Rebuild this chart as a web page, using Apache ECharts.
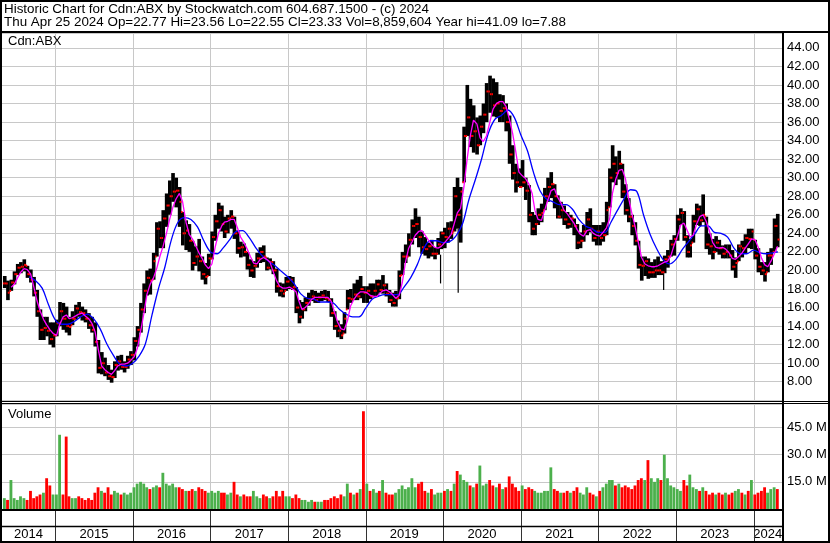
<!DOCTYPE html>
<html><head><meta charset="utf-8">
<script src="https://cdn.jsdelivr.net/npm/echarts@6/dist/echarts.min.js"></script>
<style>html,body{margin:0;padding:0;background:#fff}#c{width:830px;height:543px}</style>
</head><body><div id="c"></div><script>
// ---- half-month OHLC envelope (May 2014 .. Apr 2024), two values per month ----
const priceHigh = [
19.4,18.9,19.0,19.9,20.7,20.9,21.2,20.5,20.1,19.3,17.9,15.8,15.0,15.0,14.4,14.4,
14.7,16.6,16.5,16.1,15.0,15.6,16.3,16.6,16.1,15.8,15.4,15.0,14.4,12.5,11.2,10.6,9.8,9.3,10.2,10.8,10.9,10.2,10.8,11.3,
12.8,14.0,16.5,18.6,20.0,20.2,21.9,25.2,25.3,26.5,28.3,29.7,30.5,30.0,29.0,26.3,25.4,25.0,23.2,22.6,23.4,21.5,20.8,21.8,
24.2,26.0,27.3,27.0,25.8,26.0,26.5,25.8,24.3,23.1,22.9,22.0,21.2,21.0,21.9,22.5,22.7,21.4,21.3,21.0,20.2,18.7,18.6,19.3,
19.4,19.3,18.2,16.8,16.6,17.1,17.6,17.9,17.8,17.6,17.8,17.9,17.8,17.0,15.6,14.6,14.2,15.5,17.9,18.0,18.6,19.0,19.4,18.3,
18.3,18.6,18.6,19.0,19.0,19.5,18.6,17.9,17.6,17.8,20.0,22.0,22.8,24.0,25.5,26.7,25.8,24.2,23.6,23.0,23.3,22.5,23.5,24.2,
24.6,25.2,25.3,29.0,30.0,29.0,35.5,40.0,38.5,37.8,36.5,36.7,38.0,40.2,41.0,40.7,40.3,39.0,38.9,38.0,36.7,33.5,31.5,31.0,
31.9,30.0,29.2,26.3,26.0,26.7,27.2,28.9,30.0,30.6,29.3,28.1,27.4,27.0,26.3,26.0,25.6,25.0,24.1,24.9,26.3,26.7,24.9,24.9,
24.9,25.2,27.4,31.0,33.5,32.3,32.9,31.5,29.3,27.8,26.0,25.2,23.2,21.5,21.5,21.3,20.9,21.2,21.5,21.0,21.6,22.2,23.3,23.8,
26.0,26.7,26.4,23.8,23.4,26.0,27.2,27.0,28.2,25.8,24.0,23.4,23.7,23.3,22.7,22.8,22.8,22.2,21.4,22.8,23.2,23.9,24.5,24.5,
23.3,22.4,20.9,20.9,22.0,22.4,25.6,26.1];
const priceLow = [
18.1,16.8,17.8,18.5,19.5,19.7,19.9,19.2,18.7,17.2,15.0,12.5,12.5,12.9,12.0,11.7,
12.9,14.0,13.6,13.3,13.0,14.1,14.7,15.0,14.6,14.4,13.7,13.3,11.8,8.9,8.8,8.6,8.2,7.9,8.4,9.2,9.3,9.0,9.4,9.8,
10.3,11.8,13.3,15.4,17.3,17.4,19.0,21.5,22.4,22.4,24.7,26.0,27.4,26.8,24.7,22.7,22.2,22.0,20.0,20.5,19.9,19.0,18.5,19.4,
21.2,23.2,24.5,24.2,23.5,24.0,24.5,23.4,21.8,21.4,21.5,20.1,19.3,19.2,20.3,20.8,20.9,20.0,20.1,19.6,17.6,17.2,17.1,17.8,
18.0,17.9,15.4,14.3,14.8,15.6,16.2,16.7,16.5,16.5,16.7,16.8,16.6,15.0,13.6,12.8,12.6,13.2,15.8,16.5,16.8,16.8,17.0,16.5,
16.5,16.9,17.2,17.2,17.6,17.5,17.2,16.5,16.1,16.1,16.9,19.5,20.8,21.5,22.8,23.5,22.5,21.8,21.6,21.3,21.5,21.2,21.7,22.3,
22.4,23.0,23.4,24.2,24.5,23.0,29.5,34.5,33.3,32.7,32.5,33.5,34.8,36.0,37.0,36.6,36.5,36.0,36.0,35.0,31.5,29.8,28.4,29.0,
29.0,27.6,25.2,23.8,23.8,24.9,25.2,26.5,27.4,27.8,26.7,25.6,25.6,24.9,24.5,24.6,23.8,22.3,22.4,23.1,23.8,24.1,23.1,22.7,
22.7,23.1,23.8,26.8,29.5,29.2,29.8,27.8,26.0,25.2,23.8,22.7,20.2,18.9,19.4,19.1,19.2,19.2,19.5,19.5,19.7,20.3,21.5,21.6,
23.2,24.9,23.2,21.4,21.4,23.0,24.9,24.8,25.2,22.3,21.7,21.2,22.0,21.7,21.3,21.3,21.3,20.0,19.2,21.0,21.4,21.8,22.4,22.3,
21.2,19.8,19.5,18.8,19.8,20.6,22.0,22.5];
const priceClose = [
18.6,17.6,18.7,19.6,20.3,20.4,20.6,19.6,19.0,17.6,15.6,13.6,13.8,13.5,12.6,13.0,
14.3,15.6,14.8,14.0,13.9,14.8,15.9,15.5,15.4,14.8,14.1,13.6,12.3,9.5,10.0,9.0,8.6,8.5,9.8,10.2,9.6,9.6,10.4,10.9,
12.4,13.6,15.8,17.8,19.2,18.9,21.0,24.5,23.5,25.6,27.0,28.0,28.5,28.6,27.4,24.0,24.3,23.2,20.8,21.5,21.0,19.6,19.3,21.3,
23.6,25.3,26.5,25.0,24.2,25.6,25.8,24.0,22.4,22.5,22.0,20.6,20.0,20.5,21.3,22.0,21.5,20.3,20.9,20.0,18.3,17.8,17.5,18.8,
19.0,18.2,16.0,15.0,15.8,16.5,16.9,17.2,16.8,17.1,17.3,17.0,16.8,15.4,14.0,13.5,13.0,14.8,17.0,16.9,17.4,17.2,18.0,17.6,
17.8,17.2,17.8,18.5,17.9,18.4,17.5,16.8,16.5,17.0,19.4,21.5,21.5,23.3,24.8,25.0,23.6,22.5,22.3,22.6,21.8,21.8,22.8,24.0,
23.6,24.5,24.0,28.0,26.0,28.5,34.5,36.5,34.5,35.0,33.5,35.5,36.8,39.3,39.0,37.8,38.0,37.2,37.5,36.0,32.5,30.5,29.5,29.0,
29.5,28.6,26.0,24.5,25.0,26.0,26.2,28.0,29.0,29.3,28.0,25.8,26.5,25.5,25.0,25.6,24.8,23.0,23.2,24.2,25.5,24.5,23.5,24.2,
23.5,23.8,26.5,30.0,31.5,30.5,31.5,28.5,26.5,25.8,24.8,23.2,20.6,20.5,21.0,19.8,19.8,20.0,20.0,19.8,21.2,21.5,22.8,23.4,
25.5,26.2,23.6,22.0,22.7,25.3,26.6,25.4,26.0,22.8,22.6,22.0,23.0,22.4,21.8,22.0,21.6,20.4,20.8,22.6,22.4,23.5,23.4,24.2,
21.6,20.4,20.0,19.6,21.6,21.6,24.8,23.33];
// thin one-off spikes below the band: [date, spike low, band low]
const spikeDates = ['2019-12-20','2020-03-12','2022-11-04'];
const spikeLows  = [18.6, 17.6, 17.9];
const spikeTops  = [21.7, 24.5, 19.7];
// fast moving average (magenta), half-month points
const fastMA = [
null,null,18.2,18.5,19.2,19.8,20.2,20.1,19.6,18.2,16.7,15.6,14.7,14.1,13.6,13.2,
13.0,14.2,15.0,15.2,14.8,14.9,15.1,15.3,15.4,15.1,14.8,14.3,13.4,11.5,9.7,9.3,9.0,8.8,9.2,9.7,9.9,9.9,10.0,10.3,
10.7,11.6,13.5,15.4,17.4,18.5,19.2,20.2,21.5,22.6,24.0,25.5,26.8,27.7,28.3,27.4,25.2,23.9,23.4,22.7,21.9,21.3,20.6,20.2,
20.7,22.5,24.0,24.8,25.2,25.3,25.5,25.5,24.6,23.6,23.0,22.3,21.5,20.8,20.7,21.2,21.4,21.2,20.9,19.9,18.9,18.3,18.1,18.1,
18.2,18.0,17.7,16.6,15.8,16.0,16.4,16.9,17.1,17.1,17.1,17.1,17.1,16.7,15.5,14.4,13.7,13.6,14.6,16.2,16.9,17.4,17.7,17.7,
17.6,17.3,17.2,17.2,17.5,17.8,17.9,17.7,17.4,17.0,17.3,18.7,20.9,22.4,23.1,23.8,24.2,24.3,23.8,23.3,22.8,22.5,22.4,22.6,
23.0,23.4,23.9,25.1,26.2,26.7,29.0,32.0,34.5,36.2,35.8,34.3,33.9,34.5,36.0,37.4,38.0,38.2,38.2,37.7,36.3,34.8,32.8,30.6,
30.2,29.9,29.3,28.3,26.5,25.5,25.4,26.5,27.6,28.6,28.8,27.9,27.3,26.5,26.1,25.6,25.1,24.4,23.9,23.7,24.3,24.4,24.0,23.8,
23.7,24.1,24.6,25.6,28.3,29.8,30.8,30.9,29.9,27.8,26.1,24.7,23.0,21.4,20.7,20.5,20.4,20.4,20.5,20.7,20.9,21.0,21.6,22.7,
23.7,24.9,25.1,24.3,23.6,23.8,25.0,25.8,26.0,25.3,24.2,23.0,22.5,22.4,22.5,22.3,21.9,21.3,21.2,21.5,21.9,22.4,22.9,23.4,
23.3,22.5,21.3,20.6,20.4,21.0,21.8,22.6];
// slow moving average (blue), month starts May 2014 .. Apr 2024, then Apr 25 2024
const slowMA = [
null,null,null,null,19.3,18.9,18.1,16.3,
14.7,14.2,14.2,14.5,15.0,15.3,14.8,13.7,12.1,10.9,9.9,9.7,
10.0,10.8,12.1,15.2,18.0,20.4,23.3,25.2,25.7,25.5,24.7,23.2,
22.0,21.8,22.4,23.3,24.2,24.3,23.6,22.5,21.6,21.0,20.5,19.9,
19.3,18.5,17.5,17.0,16.9,16.6,16.6,16.5,15.8,15.3,15.0,15.0,
15.9,16.9,17.2,17.4,17.4,17.4,18.2,19.2,20.6,22.3,23.2,23.2,
23.0,23.1,23.7,25.0,27.6,29.8,32.1,34.8,36.3,36.7,37.3,36.5,
34.6,32.9,30.6,28.6,27.7,27.4,27.1,27.1,26.6,25.5,24.8,24.5,
24.1,24.1,25.2,26.5,27.7,28.7,28.5,26.0,23.9,22.4,21.2,20.7,
21.2,22.3,23.1,24.0,24.8,24.8,24.1,24.0,23.6,22.4,21.8,21.8,
22.2,21.9,21.8,21.9,22.0];
// volume, millions, half-month
const volumeM = [
6,5,16,6,5,7,6,5,10,6,7,8,9,17,13,8,
8,41,8,40,7,6,6,7,6,5,6,5,9,12,10,9,12,8,10,9,8,9,8,9,
12,14,15,14,12,11,12,13,12,20,14,13,14,12,12,11,10,10,11,10,12,11,10,9,
10,9,10,9,9,8,9,15,8,7,8,7,7,10,7,6,8,7,6,7,10,7,10,7,
7,6,8,6,5,5,4,5,4,4,4,5,5,6,7,6,8,7,14,9,8,9,11,54,
14,10,11,9,10,16,9,8,8,9,11,13,11,12,17,12,14,15,10,9,11,8,9,9,
10,11,10,14,21,19,16,15,13,12,14,24,13,14,16,13,12,14,11,12,18,14,12,10,
13,11,12,11,10,9,9,10,10,23,11,10,9,9,10,9,10,12,9,8,12,9,8,7,
10,12,14,16,16,13,14,12,13,12,11,13,16,17,16,27,17,15,17,16,30,17,13,12,
11,10,16,13,19,12,11,10,12,10,8,9,8,9,8,9,8,9,10,11,9,8,10,16,
8,9,10,12,9,11,12,11];
const yearLabels = ['2014','2015','2016','2017','2018','2019','2020','2021','2022','2023','2024'];

// ---- time positions (categories) ----
const T0 = new Date(2014, 3, 26).getTime();
const T1 = new Date(2024, 4, 14).getTime();
const DAY = 86400000, HALF = 15.22 * DAY;
const halfDates = [], monthDates = [];
for (let y = 2014; y <= 2024; y++) for (let m = 0; m < 12; m++) {
  if (y === 2014 && m < 4) continue;
  if (y === 2024 && m > 3) break;
  halfDates.push(new Date(y, m, 8).getTime(), new Date(y, m, 23).getTime());
  monthDates.push(new Date(y, m, 1).getTime());
}
monthDates.push(new Date(2024, 3, 25).getTime());

const FONT = '"Liberation Sans", Arial, sans-serif';
const GRID = '#c8c8c8';
const ohlc = halfDates.map((t, i) => [t, priceHigh[i], priceLow[i], priceClose[i], i ? priceClose[i - 1] : priceClose[i]]);
const vol = halfDates.map((t, i) => [t, volumeM[i], i === 0 || priceClose[i] >= priceClose[i - 1] ? 1 : 0]);
const fast = halfDates.map((t, i) => [t, fastMA[i]]);
const slow = monthDates.map((t, i) => [t, slowMA[i]]);
const spikes = spikeDates.map((d, i) => [new Date(d).getTime(), spikeLows[i], spikeTops[i]]);
const yearCells = yearLabels.map((y, i) => [Math.max(T0, new Date(+y, 0, 1).getTime()), Math.min(T1, new Date(+y + 1, 0, 1).getTime()), y]);
const yearLines = yearCells.slice(1).map(c => [c[0]]);

function gridLines(params, api) {
  const cs = params.coordSys;
  const x = Math.round(api.coord([api.value(0), 0])[0]) + 0.5;
  return {type: 'line', shape: {x1: x, y1: cs.y, x2: x, y2: cs.y + cs.height}, style: {stroke: GRID, lineWidth: 1}};
}

const chart = echarts.init(document.getElementById('c'), null, {renderer: 'canvas'});
const xBase = {type: 'time', min: T0, max: T1, axisLine: {show: false}, axisTick: {show: false}, axisLabel: {show: false}, splitLine: {show: false}};
chart.setOption({
  animation: false,
  backgroundColor: '#fff',
  grid: [
    {left: 2, right: 48, top: 33, height: 367.3},
    {left: 2, right: 48, top: 404, height: 105},
    {left: 2, right: 48, top: 511, height: 31}
  ],
  xAxis: [Object.assign({gridIndex: 0}, xBase), Object.assign({gridIndex: 1}, xBase), Object.assign({gridIndex: 2}, xBase)],
  yAxis: [
    {gridIndex: 0, type: 'value', position: 'right', min: 6, max: 45.6, interval: 2,
     axisLine: {show: false}, axisTick: {show: false},
     axisLabel: {formatter: v => v.toFixed(2), showMinLabel: false, showMaxLabel: false, color: '#000', fontSize: 13, fontFamily: FONT, margin: 5},
     splitLine: {lineStyle: {color: GRID, width: 1}}},
    {gridIndex: 1, type: 'value', position: 'right', min: 0, max: 58, interval: 15,
     axisLine: {show: false}, axisTick: {show: false},
     axisLabel: {formatter: v => v.toFixed(1) + ' M', showMinLabel: false, showMaxLabel: false, color: '#000', fontSize: 13, fontFamily: FONT, margin: 5},
     splitLine: {lineStyle: {color: GRID, width: 1}}},
    {gridIndex: 2, type: 'value', min: 0, max: 2, show: false}
  ],
  series: [
    {type: 'custom', xAxisIndex: 0, yAxisIndex: 0, data: yearLines, renderItem: gridLines, z: 1, silent: true},
    {type: 'custom', xAxisIndex: 1, yAxisIndex: 1, data: yearLines, renderItem: gridLines, z: 1, silent: true},
    {type: 'custom', xAxisIndex: 0, yAxisIndex: 0, data: ohlc, z: 3, silent: true,
     renderItem(params, api) {
       const t = api.value(0), hi = api.value(1), lo = api.value(2);
       const op = Math.min(hi, Math.max(lo, api.value(4)));
       const pH = api.coord([t, hi]), pL = api.coord([t, lo]), pC = api.coord([t, api.value(3)]), pO = api.coord([t, op]);
       const w = api.size([HALF, 0])[0];
       return {type: 'group', children: [
         {type: 'rect', shape: {x: pH[0] - w / 2, y: pH[1], width: w + 0.4, height: Math.max(1, pL[1] - pH[1])}, style: {fill: '#000'}},
         {type: 'rect', shape: {x: pC[0] + w / 2 - 1.6, y: pC[1] - 1, width: 2, height: 2}, style: {fill: '#ff0000'}},
         {type: 'rect', shape: {x: pO[0] - w / 2, y: pO[1] - 1, width: 1.6, height: 2}, style: {fill: '#ff0000'}}
       ]};
     }},
    {type: 'custom', xAxisIndex: 0, yAxisIndex: 0, data: spikes, z: 3, silent: true,
     renderItem(params, api) {
       const t = api.value(0);
       const a = api.coord([t, api.value(1)]), b = api.coord([t, api.value(2)]);
       return {type: 'line', shape: {x1: a[0], y1: a[1], x2: b[0], y2: b[1]}, style: {stroke: '#000', lineWidth: 1.2}};
     }},
    {type: 'line', xAxisIndex: 0, yAxisIndex: 0, data: slow, showSymbol: false, smooth: 0.35, z: 5, silent: true,
     lineStyle: {color: '#0000ff', width: 1.3}},
    {type: 'line', xAxisIndex: 0, yAxisIndex: 0, data: fast, showSymbol: false, z: 6, silent: true,
     lineStyle: {color: '#ff00ff', width: 1.3}},
    {type: 'custom', xAxisIndex: 1, yAxisIndex: 1, data: vol, z: 3, silent: true,
     renderItem(params, api) {
       const t = api.value(0);
       const p0 = api.coord([t, 0]), p1 = api.coord([t, api.value(1)]);
       const w = api.size([HALF, 0])[0];
       return {type: 'rect', shape: {x: p0[0] - w / 2, y: p1[1], width: w - 0.4, height: p0[1] - p1[1]},
               style: {fill: api.value(2) ? '#4cb04c' : '#ff0000'}};
     }},
    {type: 'custom', xAxisIndex: 2, yAxisIndex: 2, data: yearCells, z: 3, silent: true,
     renderItem(params, api) {
       const cs = params.coordSys;
       const a = api.coord([api.value(0), 0])[0], b = api.coord([api.value(1), 0])[0];
       const kids = [{type: 'text', x: (a + b) / 2, y: cs.y + 23.5,
         style: {text: yearLabels[params.dataIndex], fill: '#000', font: '13px ' + FONT, align: 'center', verticalAlign: 'middle', textAlign: 'center', textVerticalAlign: 'middle'}}];
       if (params.dataIndex > 0) {
         const x = Math.round(a) + 0.5;
         kids.push({type: 'line', shape: {x1: x, y1: cs.y, x2: x, y2: cs.y + cs.height}, style: {stroke: '#333', lineWidth: 1}});
       }
       return {type: 'group', children: kids};
     }}
  ],
  graphic: [
    {type: 'text', x: 4, y: 9.5, style: {text: 'Historic Chart for Cdn:ABX by Stockwatch.com 604.687.1500 - (c) 2024', fill: '#000', font: '13.4px ' + FONT, verticalAlign: 'middle', textVerticalAlign: 'middle'}, z: 20},
    {type: 'text', x: 4, y: 22.5, style: {text: 'Thu Apr 25 2024 Op=22.77 Hi=23.56 Lo=22.55 Cl=23.33 Vol=8,859,604 Year hi=41.09 lo=7.88', fill: '#000', font: '13.4px ' + FONT, verticalAlign: 'middle', textVerticalAlign: 'middle'}, z: 20},
    {type: 'text', x: 8, y: 41.5, style: {text: 'Cdn:ABX', fill: '#000', font: '13px ' + FONT, verticalAlign: 'middle', textVerticalAlign: 'middle'}, z: 20},
    {type: 'text', x: 8, y: 414, style: {text: 'Volume', fill: '#000', font: '13px ' + FONT, verticalAlign: 'middle', textVerticalAlign: 'middle'}, z: 20},
    {type: 'line', shape: {x1: 0, y1: 32, x2: 830, y2: 32}, style: {stroke: '#000', lineWidth: 2}, z: 20},
    {type: 'line', shape: {x1: 783, y1: 32, x2: 783, y2: 543}, style: {stroke: '#000', lineWidth: 2}, z: 20},
    {type: 'line', shape: {x1: 0, y1: 401.5, x2: 830, y2: 401.5}, style: {stroke: '#000', lineWidth: 1}, z: 20},
    {type: 'line', shape: {x1: 0, y1: 403.5, x2: 830, y2: 403.5}, style: {stroke: '#000', lineWidth: 1}, z: 20},
    {type: 'line', shape: {x1: 0, y1: 510, x2: 783, y2: 510}, style: {stroke: '#000', lineWidth: 2}, z: 20},
    {type: 'line', shape: {x1: 0, y1: 526.5, x2: 783, y2: 526.5}, style: {stroke: '#000', lineWidth: 1.5}, z: 20},
    {type: 'rect', shape: {x: 1, y: 1, width: 828, height: 541}, style: {stroke: '#000', lineWidth: 2, fill: 'none'}, z: 21}
  ]
});
</script></body></html>
